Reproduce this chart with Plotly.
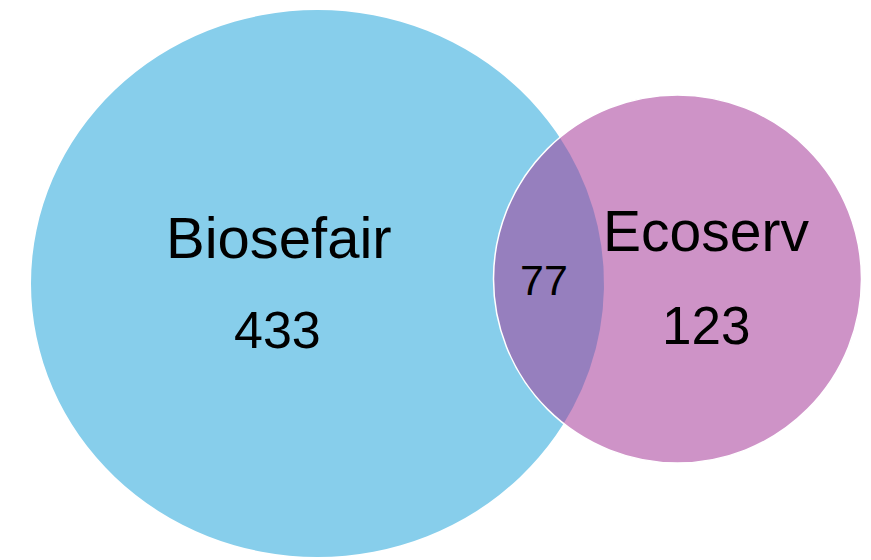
import numpy as np
import plotly.graph_objects as go

# ---- data ----
set_names = ["Biosefair", "Ecoserv"]
only_counts = [433, 123]
overlap_count = 77

# ---- layout geometry (pixels) ----
W, H = 871, 560
big_c = (317.5, 283.5); big_rx, big_ry = 286.5, 273.5
small_c = (677.5, 279.0); small_r = 184.0

col_a = "#87CEEB"
col_b = "#CE93C7"
col_ab = "#967FBE"

# lens polygon
t = np.linspace(0, 2 * np.pi, 2000, endpoint=False)
cx, cy = small_c
xs = cx + small_r * np.cos(t); ys = cy + small_r * np.sin(t)
inside = ((xs - big_c[0]) / big_rx) ** 2 + ((ys - big_c[1]) / big_ry) ** 2 <= 1
arc1x, arc1y = xs[inside], ys[inside]
t2 = np.linspace(-np.pi, np.pi, 2000, endpoint=False)
ex = big_c[0] + big_rx * np.cos(t2); ey = big_c[1] + big_ry * np.sin(t2)
inside2 = (ex - cx) ** 2 + (ey - cy) ** 2 <= small_r ** 2
arc2x, arc2y = ex[inside2], ey[inside2]
lens_x = np.concatenate([arc1x, arc2x, arc1x[:1]])
lens_y = np.concatenate([arc1y, arc2y, arc1y[:1]])

fig = go.Figure()
fig.add_trace(go.Scatter(x=lens_x, y=lens_y, mode="lines", fill="toself",
                         fillcolor=col_ab, line=dict(width=0), hoverinfo="skip",
                         showlegend=False))

fig.add_shape(type="circle", xref="x", yref="y",
              x0=big_c[0] - big_rx, x1=big_c[0] + big_rx,
              y0=big_c[1] - big_ry, y1=big_c[1] + big_ry,
              fillcolor=col_a, line=dict(width=0), layer="below")
fig.add_shape(type="circle", xref="x", yref="y",
              x0=cx - small_r, x1=cx + small_r, y0=cy - small_r, y1=cy + small_r,
              fillcolor=col_b, line=dict(width=0), layer="below")
fig.add_shape(type="circle", xref="x", yref="y",
              x0=cx - small_r, x1=cx + small_r, y0=cy - small_r, y1=cy + small_r,
              fillcolor="rgba(0,0,0,0)", line=dict(width=1.5, color="white"), layer="above")

font = "Liberation Sans, Arial, sans-serif"
ann = [
    (278.5, 237, set_names[0], 58),
    (277.5, 330, str(only_counts[0]), 52),
    (705.5, 231, set_names[1], 57),
    (706, 325, str(only_counts[1]), 53),
    (544, 280, str(overlap_count), 43),
]
for x, y, txt, s in ann:
    fig.add_annotation(x=x, y=y, xref="x", yref="y", text=txt, showarrow=False,
                       font=dict(family=font, size=s, color="black"),
                       xanchor="center", yanchor="middle")

fig.update_xaxes(range=[0, W], visible=False, fixedrange=True)
fig.update_yaxes(range=[H, 0], visible=False, fixedrange=True)
fig.update_layout(width=W, height=H, margin=dict(l=0, r=0, t=0, b=0),
                  paper_bgcolor="white", plot_bgcolor="white", showlegend=False)
fig.write_html("out.html", config={"displayModeBar": False},
               post_script="document.body.style.margin='0';")
